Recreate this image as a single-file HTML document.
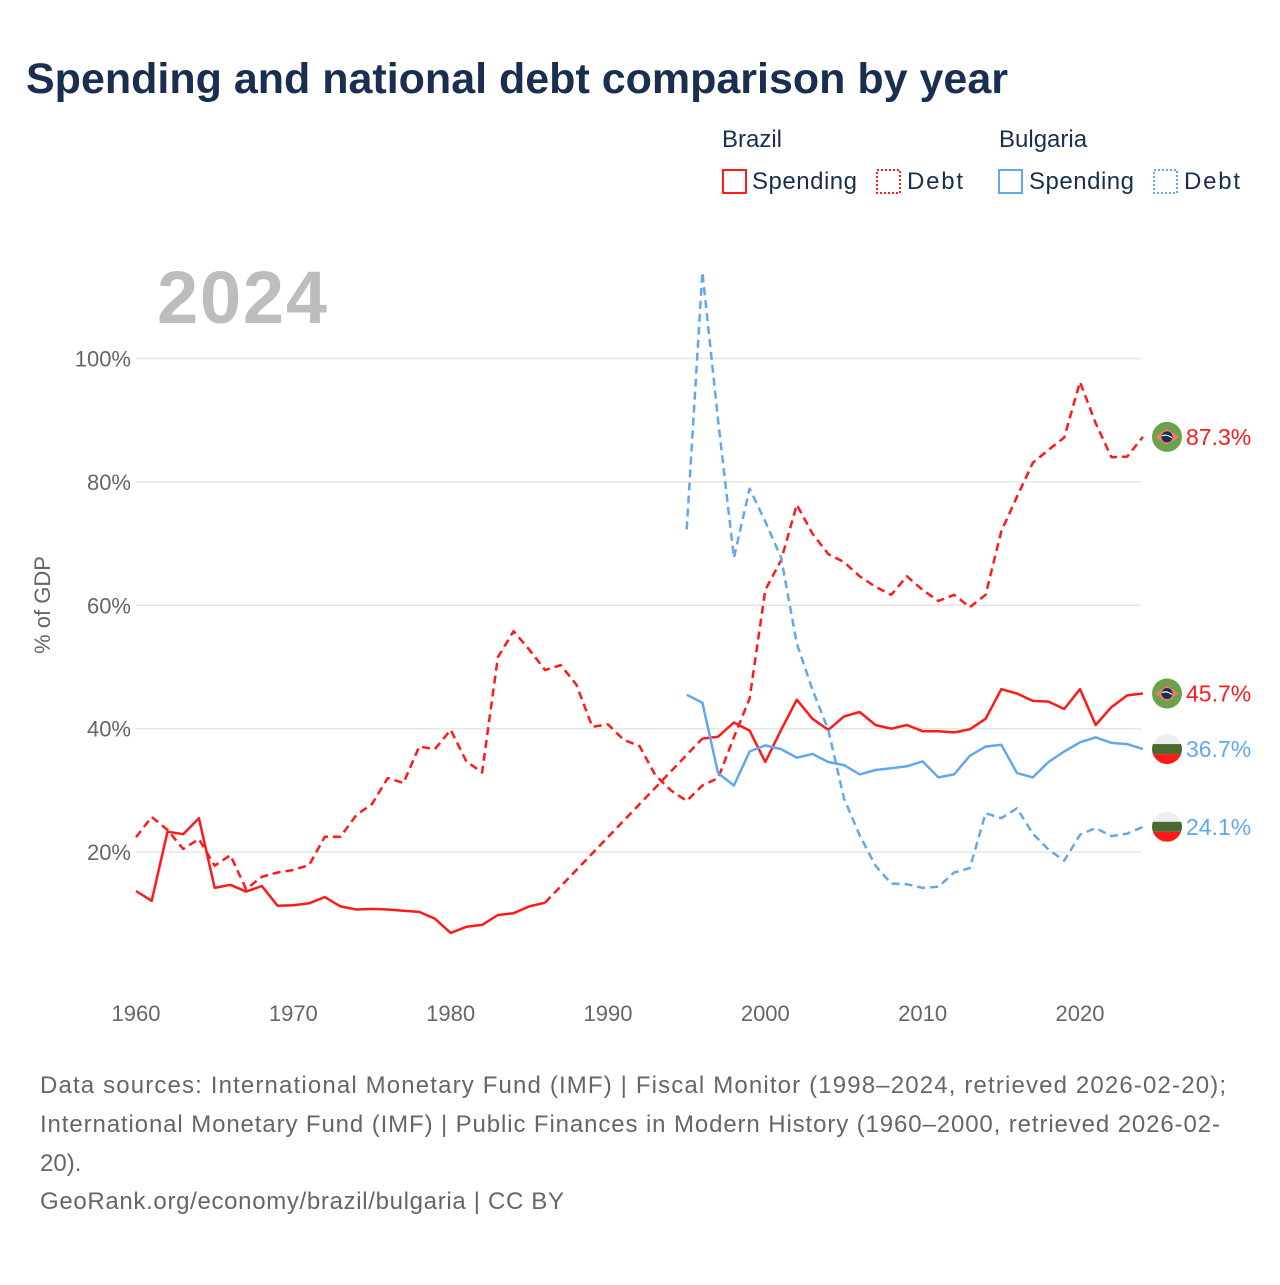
<!DOCTYPE html>
<html><head><meta charset="utf-8">
<style>
body{margin:0;background:#fff;font-family:"Liberation Sans",sans-serif;}
svg text{font-family:"Liberation Sans",sans-serif;}
</style></head>
<body>
<svg id="chart" width="1280" height="1280" viewBox="0 0 1280 1280" xmlns="http://www.w3.org/2000/svg">
<text x="26" y="93" font-size="43" font-weight="bold" fill="#1a2e4f">Spending and national debt comparison by year</text>
<g>
<text x="722" y="147" font-size="24" fill="#1a2e4f">Brazil</text>
<text x="999" y="147" font-size="24" fill="#1a2e4f">Bulgaria</text>
<g><rect x="723" y="170" width="23" height="23" fill="none" stroke="#ff1a1a" stroke-width="2"/><text x="752" y="189" font-size="24" fill="#1a2e4f" textLength="105">Spending</text></g>
<g><rect x="877" y="170" width="23" height="23" fill="none" stroke="#ff1a1a" stroke-width="2" stroke-dasharray="2,2"/><text x="907" y="189" font-size="24" fill="#1a2e4f" textLength="56">Debt</text></g>
<g><rect x="999" y="170" width="23" height="23" fill="none" stroke="#62a8ec" stroke-width="2"/><text x="1029" y="189" font-size="24" fill="#1a2e4f" textLength="105">Spending</text></g>
<g><rect x="1154" y="170" width="23" height="23" fill="none" stroke="#62a8ec" stroke-width="2" stroke-dasharray="2,2"/><text x="1184" y="189" font-size="24" fill="#1a2e4f" textLength="56">Debt</text></g>
</g>
<text x="157" y="323" font-size="74" font-weight="bold" fill="#bdbdbd" textLength="170">2024</text>
<text transform="translate(50,605) rotate(-90)" text-anchor="middle" font-size="22" fill="#666">% of GDP</text>
<g id="grid"></g><g id="yticks"></g><g id="xticks"></g><g id="series"></g><g id="ends"></g>
<g font-size="24" fill="#666">
<text x="40" y="1093" textLength="1186">Data sources: International Monetary Fund (IMF) | Fiscal Monitor (1998–2024, retrieved 2026-02-20);</text>
<text x="40" y="1132" textLength="1180">International Monetary Fund (IMF) | Public Finances in Modern History (1960–2000, retrieved 2026-02-</text>
<text x="40" y="1171">20).</text>
<text x="40" y="1209" textLength="524">GeoRank.org/economy/brazil/bulgaria | CC BY</text>
</g>
</svg>
<script>
const yTicks=[20,40,60,80,100];
const xTicks=[1960,1970,1980,1990,2000,2010,2020];
const braSpendYears1=[1960,1961,1962,1963,1964,1965,1966,1967,1968,1969,1970,1971,1972,1973,1974,1975,1976,1977,1978,1979,1980,1981,1982,1983,1984,1985,1986];
const braSpend1=[13.7,12.1,23.3,22.9,25.5,14.2,14.7,13.6,14.5,11.3,11.4,11.7,12.7,11.2,10.7,10.8,10.7,10.5,10.3,9.2,6.9,7.9,8.2,9.8,10.1,11.2,11.8];
const braSpendStart2=1996;
const braSpend2=[38.4,38.7,41.0,39.7,34.6,39.8,44.7,41.6,39.8,42.0,42.7,40.6,40.0,40.6,39.6,39.6,39.4,39.9,41.6,46.4,45.7,44.5,44.4,43.2,46.4,40.6,43.5,45.4,45.7];
const braDebtStart=1960;
const braDebt=[22.4,25.7,23.6,20.5,22.1,17.8,19.5,14.0,16.0,16.7,17.1,17.9,22.5,22.5,26.0,27.8,32.0,31.2,37.1,36.7,39.8,34.7,32.9,51.6,55.8,52.8,49.5,50.3,47.1,40.3,40.7,38.2,37.2,32.5,30.0,28.3,30.8,32.0,38.6,44.9,62.5,67.3,76.3,71.6,68.3,67.0,64.7,63.0,61.7,64.7,62.5,60.7,61.7,59.7,61.7,72.0,77.6,83.1,85.2,87.2,96.2,89.5,84.0,84.1,87.3];
const bgrStart=1995;
const bgrSpend=[45.5,44.2,32.8,30.8,36.3,37.3,36.7,35.3,35.9,34.6,34.1,32.6,33.3,33.6,33.9,34.7,32.1,32.6,35.6,37.1,37.4,32.8,32.1,34.6,36.3,37.8,38.6,37.7,37.5,36.7];
const bgrDebt=[72.3,114,90,67.7,78.9,73.6,67.7,53.8,46.3,39.8,28.7,22.7,17.8,14.9,14.8,14.2,14.4,16.7,17.4,26.3,25.5,27.1,23.0,20.4,18.6,22.8,23.9,22.6,23.0,24.1];

const NS="http://www.w3.org/2000/svg";
const X=y=>136+(y-1960)*15.733;
const Y=v=>975.5-v*6.17;
function mk(tag,attrs,parent){const e=document.createElementNS(NS,tag);for(const k in attrs)e.setAttribute(k,attrs[k]);parent.appendChild(e);return e;}
const grid=document.getElementById('grid'),yt=document.getElementById('yticks'),xt=document.getElementById('xticks'),ser=document.getElementById('series'),ends=document.getElementById('ends');
yTicks.forEach(v=>{
  const l=mk('line',{x1:136,x2:1141,y1:Y(v),y2:Y(v),stroke:'#e6e6e6','stroke-width':1.5},grid);
  
  
  const t=mk('text',{x:131,y:Y(v)+8,'text-anchor':'end','font-size':22,fill:'#666'},yt);
  t.textContent=v+'%';
  
  
});
xTicks.forEach(v=>{
  const t=mk('text',{x:X(v),y:1021,'text-anchor':'middle','font-size':22,fill:'#666'},xt);
  t.textContent=v;
  
  
});
function pts(start,vals){return vals.map((v,i)=>X(start+i).toFixed(1)+','+Y(v).toFixed(1)).join(' ');}
function line(points,color,dash,name){
  const p=mk('polyline',{points:points,fill:'none',stroke:color,'stroke-width':2.5,'stroke-linejoin':'round'},ser);
  if(dash)p.setAttribute('stroke-dasharray',dash);
  
  
}
const RED='#ff1a1a',BLUE='#62a8ec';
line(pts(braDebtStart,braDebt),RED,'8,5','brazil-debt-line');
line(pts(braSpendYears1[0],braSpend1),RED,null,'brazil-spending-line-early');
const ly=braSpendYears1[braSpendYears1.length-1];
line(X(ly)+','+Y(braSpend1[braSpend1.length-1])+' '+X(braSpendStart2)+','+Y(braSpend2[0]),RED,'8,5','brazil-spending-gap');
line(pts(braSpendStart2,braSpend2),RED,null,'brazil-spending-line');
line(pts(bgrStart,bgrDebt),BLUE,'8,5','bulgaria-debt-line');
line(pts(bgrStart,bgrSpend),BLUE,null,'bulgaria-spending-line');

function flag(cx,cy,country,name){
  const g=mk('g',{},ends);
  
  
  if(country==='br'){
    mk('circle',{cx:cx,cy:cy,r:15,fill:'#6ea24a'},g);
    mk('polygon',{points:`${cx-12},${cy} ${cx},${cy-8} ${cx+12},${cy} ${cx},${cy+8}`,fill:'#f07a6a'},g);
    mk('circle',{cx:cx,cy:cy,r:5.5,fill:'#1a2e4f'},g);
    mk('path',{d:`M${cx-5},${cy-1} Q${cx},${cy-3} ${cx+5},${cy+1}`,stroke:'#fff','stroke-width':1.2,fill:'none'},g);
  }else{
    mk('clipPath',{id:'c'+name},g).appendChild(document.createElementNS(NS,'circle'));
    const c=g.querySelector('clipPath circle');c.setAttribute('cx',cx);c.setAttribute('cy',cy);c.setAttribute('r',15);
    const gg=mk('g',{'clip-path':'url(#c'+name+')'},g);
    mk('rect',{x:cx-15,y:cy-15,width:30,height:10,fill:'#eeeeee'},gg);
    mk('rect',{x:cx-15,y:cy-5,width:30,height:10,fill:'#4a6b30'},gg);
    mk('rect',{x:cx-15,y:cy+5,width:30,height:10,fill:'#ff1a1a'},gg);
  }
}
function endLabel(val,color,country,name){
  const cy=Y(val);
  flag(1167,cy,country,name+'-flag');
  const t=mk('text',{x:1186,y:cy+8,'font-size':23,fill:color},ends);
  t.textContent=val.toFixed(1)+'%';
  
  
}
endLabel(braDebt[braDebt.length-1],RED,'br','brazil-debt-end');
endLabel(braSpend2[braSpend2.length-1],RED,'br','brazil-spending-end');
endLabel(bgrSpend[bgrSpend.length-1],BLUE,'bg','bulgaria-spending-end');
endLabel(bgrDebt[bgrDebt.length-1],BLUE,'bg','bulgaria-debt-end');
</script>
</body></html>
